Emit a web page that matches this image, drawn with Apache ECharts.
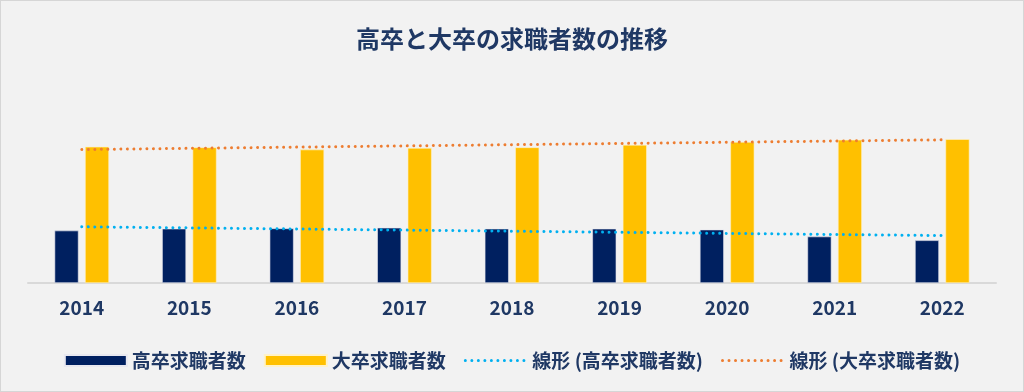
<!DOCTYPE html>
<html>
<head>
<meta charset="utf-8">
<script src="https://cdn.jsdelivr.net/npm/echarts@6/dist/echarts.min.js"></script>
<style>
html,body{margin:0;padding:0;background:#f2f2f2;}
#c{width:1024px;height:392px;box-sizing:border-box;border:1px solid #d6d6d6;}
</style>
</head>
<body>
<div id="c"></div>
<script>
const years = ['2014','2015','2016','2017','2018','2019','2020','2021','2022'];
const highSchool = [167000, 173000, 174000, 176000, 173000, 173000, 170000, 148000, 136000];
const university = [434000, 432000, 425000, 430000, 432000, 440000, 449000, 456000, 458000];
// trend lines: read endpoints only (straight lines)
const highTrend = [179000, null, null, null, null, null, null, null, 151000];
const uniTrend = [425000, null, null, null, null, null, null, null, 456000];
const names = ['高卒求職者数', '大卒求職者数', '線形 (高卒求職者数)', '線形 (大卒求職者数)'];

const font = "'Noto Sans CJK JP', 'Noto Sans', sans-serif";
const textColor = '#1f3864';
const dotLine = (c) => ({color: c, width: 3, type: [0.01, 6.5], cap: 'round'});
const chart = echarts.init(document.getElementById('c'), null, {renderer: 'canvas'});
chart.setOption({
  backgroundColor: '#f2f2f2',
  animation: false,
  title: {
    text: '高卒と大卒の求職者数の推移',
    left: 'center',
    top: 21,
    textStyle: {fontFamily: font, fontSize: 24, fontWeight: 'bold', color: textColor}
  },
  legend: {
    left: 'center',
    top: 345,
    itemWidth: 62,
    itemHeight: 11,
    itemGap: 18,
    textStyle: {fontFamily: font, fontSize: 19, fontWeight: 'bold', color: textColor},
    data: [
      {name: names[0], icon: 'rect'},
      {name: names[1], icon: 'rect'},
      {name: names[2], itemStyle: {opacity: 0}, lineStyle: dotLine('#00b0f0')},
      {name: names[3], itemStyle: {opacity: 0}, lineStyle: dotLine('#ed7d31')}
    ]
  },
  grid: {left: 27, right: 27, top: 125, bottom: 108, containLabel: false},
  xAxis: {
    type: 'category',
    data: years,
    axisLine: {lineStyle: {color: '#d9d9d9', width: 2}},
    axisTick: {show: false},
    axisLabel: {fontFamily: font, fontSize: 19, fontWeight: 'bold', color: textColor, margin: 15}
  },
  yAxis: {
    type: 'value', min: 0, max: 500000, show: false,
    splitLine: {show: false}
  },
  series: [
    {name: names[0], type: 'bar', data: highSchool, barWidth: 24, barGap: '27%',
     itemStyle: {color: '#002060', borderColor: '#e8e8f0', borderWidth: 0.6}},
    {name: names[1], type: 'bar', data: university, barWidth: 24,
     itemStyle: {color: '#ffc000', borderColor: '#fff2c8', borderWidth: 0.6}},
    {name: names[2], type: 'line', data: highTrend, connectNulls: true, symbol: 'none',
     itemStyle: {color: '#00b0f0'},
     lineStyle: dotLine('#00b0f0')},
    {name: names[3], type: 'line', data: uniTrend, connectNulls: true, symbol: 'none',
     itemStyle: {color: '#ed7d31'},
     lineStyle: dotLine('#ed7d31')}
  ]
});
</script>
</body>
</html>
